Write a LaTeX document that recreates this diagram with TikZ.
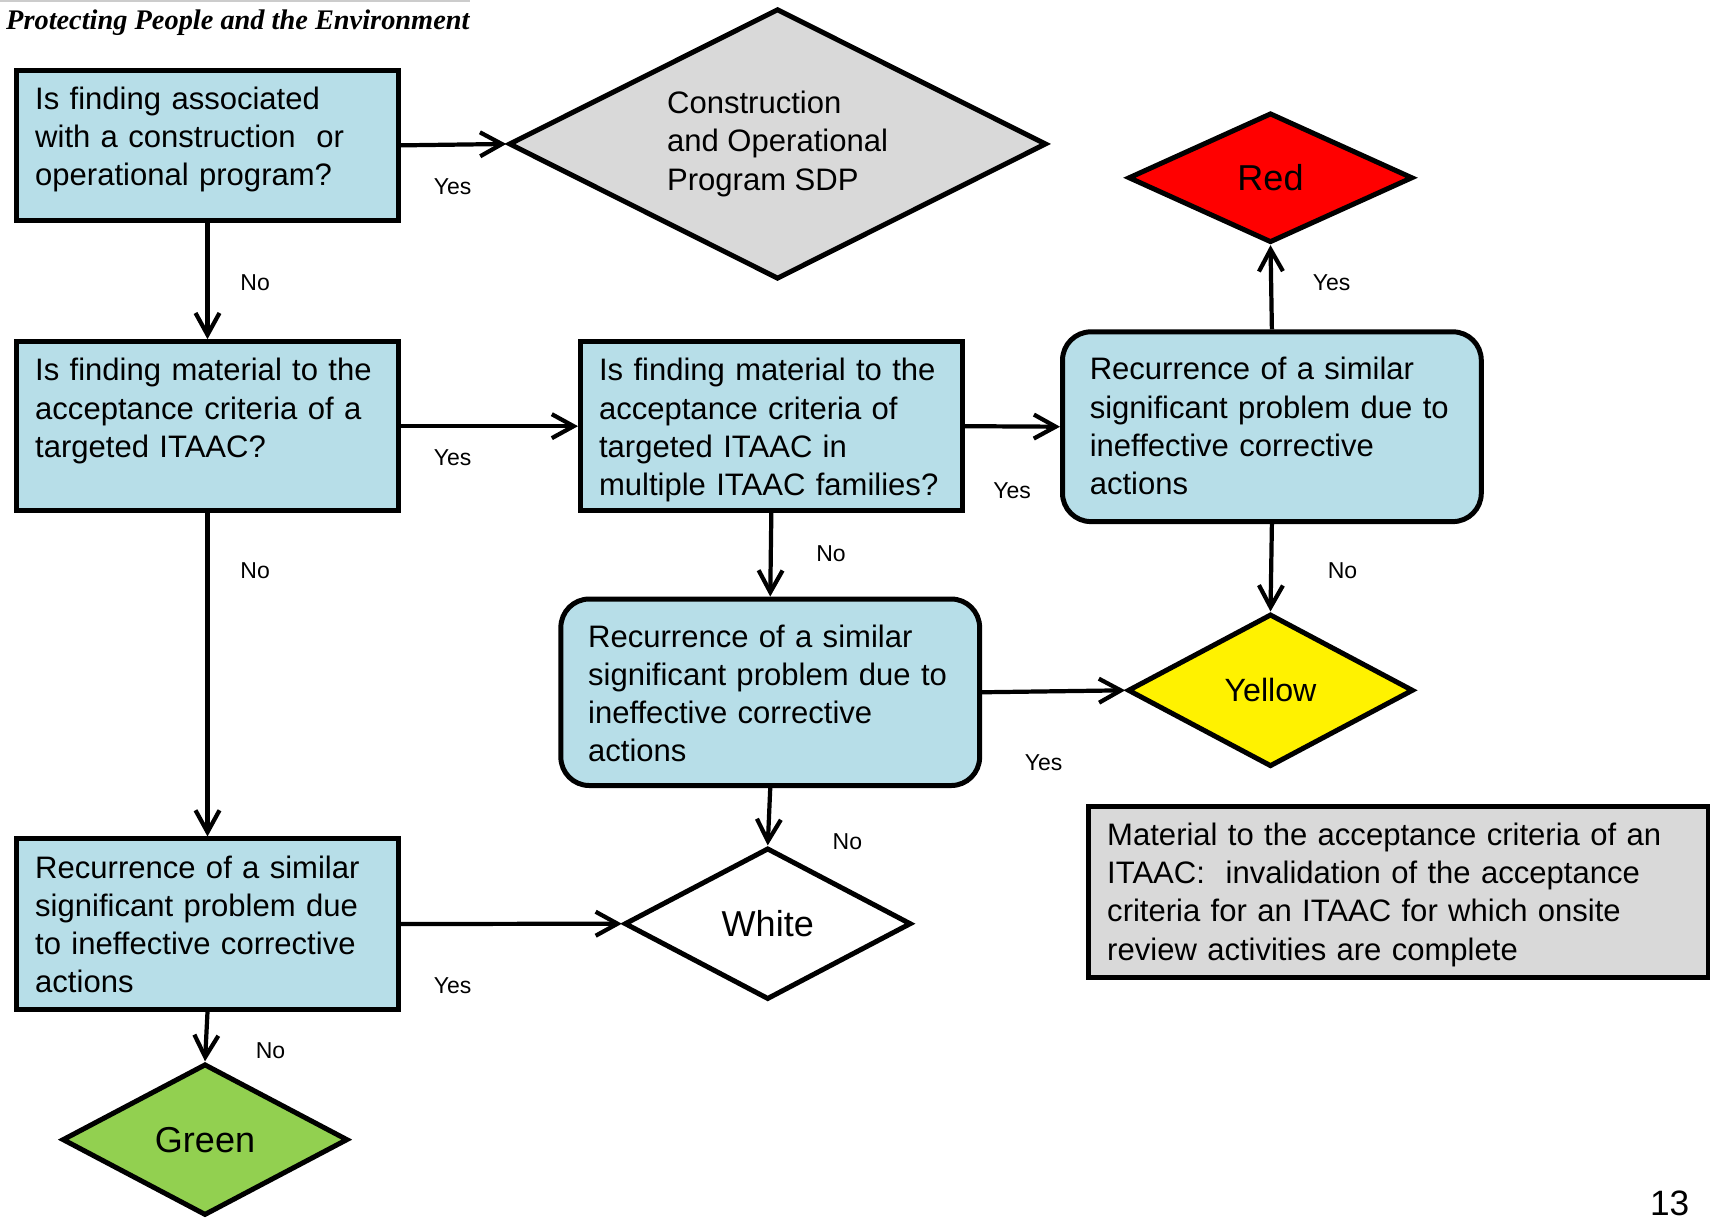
\documentclass[tikz,border=0pt]{standalone}
\usepackage{fontspec}
\setmainfont{Liberation Sans}
\newfontfamily\headfont{Liberation Serif}
\usetikzlibrary{shapes.geometric,arrows.meta,positioning}

\definecolor{boxblue}{HTML}{B7DEE8}
\definecolor{notegray}{HTML}{D9D9D9}
\definecolor{sdpgreen}{HTML}{92D050}

\tikzset{
  qbox/.style={draw, line width=1.3pt, fill=boxblue, align=left, anchor=north west,
    inner xsep=1.7mm, inner ysep=1.2mm, text height=2.4mm,
    font=\fontsize{8.1pt}{9.96pt}\selectfont},
  rbox/.style={qbox, rounded corners=2.6mm, inner xsep=2.5mm, inner ysep=2.0mm},
  dia/.style={diamond, draw, line width=1.3pt, inner sep=0pt, align=left, aspect=2,
    font=\fontsize{9.4pt}{11pt}\selectfont},
  arr/.style={line width=1.1pt, -{Straight Barb[length=2mm,width=2.2mm]}},
  lbl/.style={font=\fontsize{6pt}{7pt}\selectfont, inner sep=0pt}
}

\begin{document}
\begin{tikzpicture}[x=0.1mm, y=-0.1mm]
\useasboundingbox (0,0) rectangle (1568,1116);

% Header
\draw[gray!40, line width=0.4pt] (0,1) -- (431,1);
\node[anchor=base west, inner sep=0pt, font=\headfont\bfseries\itshape\fontsize{7.4pt}{9pt}\selectfont] (motto) at (5,27) {Protecting People and the Environment};

% Question boxes
\node[qbox, text width=31.6mm, text depth=9.0mm] (qprog) at (13,62) {Is finding associated\\with a construction \ or\\operational program?};
\node[qbox, text width=31.6mm, text depth=10.7mm] (qmat) at (13,311) {Is finding material to the\\acceptance criteria of a\\targeted ITAAC?};
\node[qbox, text width=31.6mm, text depth=10.7mm] (qmulti) at (530,311) {Is finding material to the\\acceptance criteria of\\targeted ITAAC in\\multiple ITAAC families?};
\node[qbox, text width=31.6mm, text depth=10.8mm] (qrecur) at (13,767) {Recurrence of a similar\\significant problem due\\to ineffective corrective\\actions};

% Recurrence boxes
\node[rbox, text width=33.4mm, text depth=11.0mm] (rmulti) at (972,302) {Recurrence of a similar\\significant problem due to\\ineffective corrective\\actions};
\node[rbox, text width=33.4mm, text depth=10.7mm] (rmat) at (512,547) {Recurrence of a similar\\significant problem due to\\ineffective corrective\\actions};

% Definition note
\node[qbox, fill=notegray, text width=53.4mm, text depth=10.9mm] (note) at (996,737) {Material to the acceptance criteria of an\\ITAAC: \ invalidation of the acceptance\\criteria for an ITAAC for which onsite\\review activities are complete};

% Outcomes
\node[dia, fill=notegray, minimum width=49.3mm, minimum height=24.8mm, font=\fontsize{8.1pt}{9.96pt}\selectfont] (sdp) at (713,132) {Construction\\and Operational\\Program SDP};
\node[dia, fill=red, minimum width=26.1mm, minimum height=11.9mm] (red) at (1165,163) {Red};
\node[dia, fill=yellow, minimum width=26.2mm, minimum height=14.0mm, font=\fontsize{8.4pt}{10pt}\selectfont] (yellow) at (1165,633) {Yellow};
\node[dia, fill=white, minimum width=26.3mm, minimum height=13.9mm] (white) at (704,847) {White};
\node[dia, fill=sdpgreen, minimum width=26.2mm, minimum height=13.9mm] (green) at (188,1045) {Green};

% Connectors
\draw[arr] (qprog.east) -- (sdp.west);
\draw[arr] (qprog.south) -- (qmat.north);
\draw[arr] (qmat.east) -- (qmulti.west);
\draw[arr] (qmat.south) -- (qrecur.north);
\draw[arr] (qmulti.east) -- (rmulti.west);
\draw[arr] (qmulti.south) -- (rmat.north);
\draw[arr] (rmulti.north) -- (red.south);
\draw[arr] (rmulti.south) -- (yellow.north);
\draw[arr] (rmat.east) -- (yellow.west);
\draw[arr] (rmat.south) -- (white.north);
\draw[arr] (qrecur.east) -- (white.west);
\draw[arr] (qrecur.south) -- (green.north);

% Branch labels
\node[lbl] (yes1) at (415,171) {Yes};
\node[lbl] (no1) at (234,259) {No};
\node[lbl] (yes2) at (415,420) {Yes};
\node[lbl] (no2) at (234,523) {No};
\node[lbl] (yes3) at (928,450) {Yes};
\node[lbl] (no3) at (762,508) {No};
\node[lbl] (yes4) at (1221,259) {Yes};
\node[lbl] (no4) at (1231,523) {No};
\node[lbl] (yes5) at (957,699) {Yes};
\node[lbl] (no5) at (777,772) {No};
\node[lbl] (yes6) at (415,904) {Yes};
\node[lbl] (no6) at (248,963) {No};

% Page number
\node[inner sep=0pt, font=\fontsize{9.2pt}{11pt}\selectfont] (pagenum) at (1531,1103) {13};
\end{tikzpicture}
\end{document}
